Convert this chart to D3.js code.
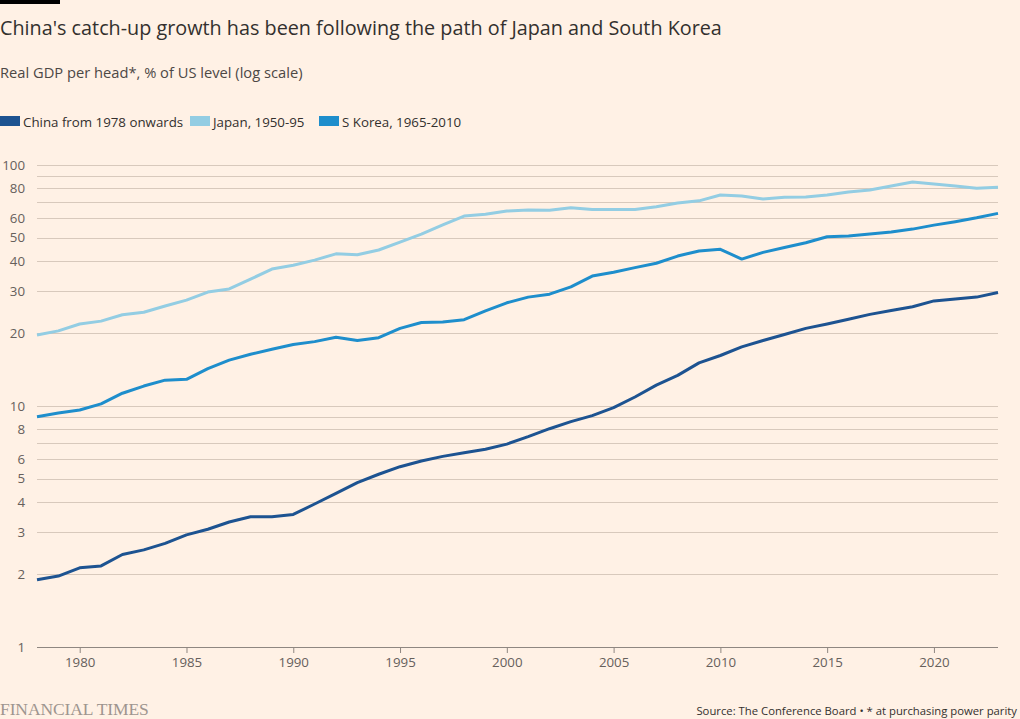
<!DOCTYPE html>
<html>
<head>
<meta charset="utf-8">
<script src="https://cdn.jsdelivr.net/npm/d3@7"></script>
<style>
  html, body { margin: 0; padding: 0; background: #fff1e5; }
  svg { display: block; }
  text { font-family: "Open Sans", "Noto Sans", sans-serif; }
</style>
</head>
<body>
<svg id="chart" width="1020" height="719"></svg>
<script>
// ---- data ----
const years = d3.range(1978, 2024);
const china = [1.90,1.97,2.13,2.17,2.42,2.53,2.69,2.92,3.08,3.30,3.47,3.47,3.55,3.92,4.34,4.81,5.21,5.60,5.91,6.18,6.40,6.61,6.95,7.46,8.05,8.61,9.12,9.84,10.9,12.2,13.4,15.1,16.2,17.6,18.7,19.8,21.0,21.9,22.9,24.0,24.9,25.8,27.3,27.8,28.3,29.6];
const japan = [19.7,20.5,21.9,22.5,23.9,24.5,26.0,27.5,29.7,30.6,33.6,37.0,38.4,40.3,42.8,42.4,44.4,47.9,51.7,56.4,61.4,62.5,64.4,65.0,64.9,66.5,65.3,65.3,65.3,67.1,69.6,71.0,75.1,74.4,72.3,73.5,73.7,75.1,77.3,78.8,81.8,85.0,83.4,81.8,80.0,80.8];
const korea = [9.03,9.35,9.62,10.2,11.3,12.1,12.8,12.9,14.3,15.5,16.4,17.2,18.0,18.5,19.3,18.7,19.2,21.0,22.2,22.3,22.8,24.8,26.8,28.3,29.1,31.2,34.6,35.9,37.5,39.1,41.9,44.0,44.7,40.7,43.4,45.5,47.6,50.4,50.8,51.7,52.7,54.2,56.3,58.2,60.4,63.0];
const seriesNames = ["China from 1978 onwards", "Japan, 1950-95", "S Korea, 1965-2010"];
const seriesColors = ["#1d5391", "#93cde3", "#1e8ecc"];
const gridValues = [1,2,3,4,5,6,7,8,9,10,20,30,40,50,60,70,80,90,100];
const yTickLabels = [1,2,3,4,5,6,8,10,20,30,40,50,60,80,100];
const xTicks = [1980,1985,1990,1995,2000,2005,2010,2015,2020];

(function () {
const svg = d3.select("#chart");
const mLeft = 37, mRight = 998, mTop = 165, mBottom = 647;

const x = d3.scaleLinear().domain([1978, 2023]).range([mLeft, mRight]);
const y = d3.scaleLog().domain([1, 100]).range([mBottom, mTop]);

// top bar
svg.append("rect").attr("x", 0).attr("y", 0).attr("width", 60).attr("height", 4).attr("fill", "#000");

// title / subtitle
svg.append("text").attr("x", 0).attr("y", 35)
  .attr("fill", "#33302e").style("font-size", "19.8px").text("China's catch-up growth has been following the path of Japan and South Korea");
svg.append("text").attr("x", 0).attr("y", 78)
  .attr("fill", "#4d4845").style("font-size", "14.7px").text("Real GDP per head*, % of US level (log scale)");

// legend
const legendX = [0, 190, 319];
seriesNames.forEach((n, i) => {
  const g = svg.append("g").attr("transform", `translate(${legendX[i]},0)`);
  g.append("rect").attr("x", 0).attr("y", 116).attr("width", 20).attr("height", 10).attr("fill", seriesColors[i]);
  g.append("text").attr("x", 23).attr("y", 126.5).attr("fill", "#33302e").style("font-size", "13.3px").text(n);
});

// grid
svg.append("g").selectAll("line").data(gridValues.filter(v => v !== 1)).join("line")
  .attr("x1", mLeft).attr("x2", mRight)
  .attr("y1", d => Math.round(y(d)) + 0.5).attr("y2", d => Math.round(y(d)) + 0.5)
  .attr("stroke", "#d8c9bc").attr("stroke-width", 1);

// y labels
const yAxis = d3.axisLeft(y).tickValues(yTickLabels).tickFormat(d3.format("d")).tickSize(0).tickPadding(0);
const gy = svg.append("g").attr("transform", `translate(25,0)`).call(yAxis);
gy.select(".domain").remove();
gy.selectAll("text").attr("fill", "#66605c").style("font-size", "13.3px");

// x axis
const xAxis = d3.axisBottom(x).tickValues(xTicks).tickFormat(d3.format("d")).tickSize(6).tickPadding(5);
const gx = svg.append("g").attr("transform", `translate(0,${mBottom})`).call(xAxis);
gx.select(".domain").attr("stroke", "#8f8781").attr("d", `M${mLeft},0.5H${mRight}`);
gx.selectAll(".tick line").attr("stroke", "#8f8781");
gx.selectAll("text").attr("fill", "#66605c").style("font-size", "13.3px");

// lines
const line = d3.line().x((d, i) => x(years[i])).y(d => y(d)).curve(d3.curveLinear);
const data = [japan, korea, china];
const cols = [seriesColors[1], seriesColors[2], seriesColors[0]];
svg.append("g").selectAll("path").data(data).join("path")
  .attr("d", line).attr("fill", "none")
  .attr("stroke", (d, i) => cols[i]).attr("stroke-width", 3)
  .attr("stroke-linejoin", "round");

// footer
svg.append("text").attr("x", 0).attr("y", 715)
  .attr("fill", "#9e958f")
  .style("font-family", "'Liberation Serif', 'DejaVu Serif', serif")
  .style("font-size", "17.5px").style("letter-spacing", "-0.1px")
  .text("FINANCIAL TIMES");
svg.append("text").attr("x", 1017).attr("y", 715).attr("text-anchor", "end")
  .attr("fill", "#33302e").style("font-size", "11.3px").text("Source: The Conference Board • * at purchasing power parity");
})();
</script>
</body>
</html>
